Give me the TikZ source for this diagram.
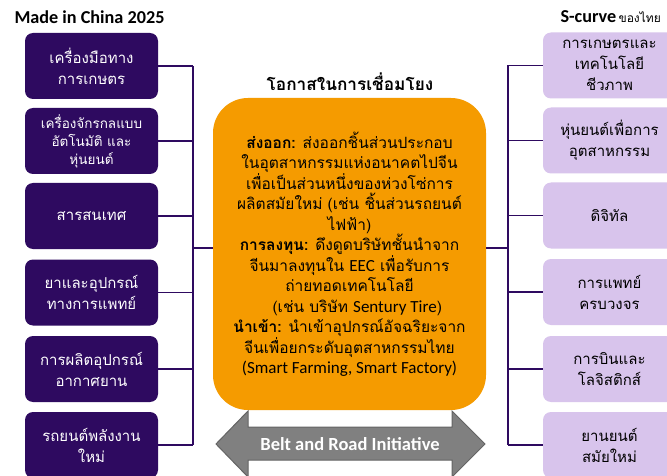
\documentclass[tikz,border=0pt]{standalone}
\usepackage{fontspec}
\setmainfont{Carlito}
\newfontfamily\thaifont[Script=Thai]{Loma}
\newcommand{\lat}[1]{{\rmfamily\fontsize{17}{20.5}\selectfont #1}}
\definecolor{mcpurple}{RGB}{46,10,96}
\definecolor{sclilac}{RGB}{216,196,236}
\definecolor{opporange}{RGB}{245,155,0}
\definecolor{brigray}{RGB}{128,128,128}
\definecolor{brigrayline}{RGB}{100,100,100}
\tikzset{
  mcbox/.style={rectangle, rounded corners=8pt, fill=mcpurple, text=white,
    minimum width=133pt, minimum height=66pt, align=center, inner sep=2pt,
    font=\thaifont\fontsize{15}{21}\selectfont},
  scbox/.style={rectangle, rounded corners=8pt, fill=sclilac, text=black,
    minimum width=133pt, minimum height=66pt, align=center, inner sep=2pt,
    font=\thaifont\fontsize{15}{21}\selectfont},
  link/.style={draw=mcpurple, line width=1.6pt},
}
\begin{document}
\begin{tikzpicture}[x=1pt,y=-1pt]
  \clip (0,0) rectangle (667,476);
  \fill[white] (0,0) rectangle (667,476);
  % headings
  \node[anchor=west, font=\bfseries\fontsize{18.2}{21}\selectfont] (mictitle) at (11,17) {Made in China 2025};
  \node[anchor=east, inner sep=0pt] (sctitle) at (661,17)
    {{\bfseries\fontsize{18.2}{21}\selectfont S-curve} {\thaifont\fontsize{12}{14}\selectfont ของไทย}};
  \node[font=\thaifont\bfseries\fontsize{17.2}{20}\selectfont] (opptitle) at (350,82) {โอกาสในการเชื่อมโยง};
  % Made in China 2025
  \node[mcbox] (m1) at (91.5,66) {เครื่องมือทาง\\การเกษตร};
  \node[mcbox, font=\thaifont\fontsize{13.5}{18}\selectfont] (m2) at (91.5,141) {เครื่องจักรกลแบบ\\อัตโนมัติ และ\\หุ่นยนต์};
  \node[mcbox] (m3) at (91.5,216) {สารสนเทศ};
  \node[mcbox] (m4) at (91.5,292.5) {ยาและอุปกรณ์\\ทางการแพทย์};
  \node[mcbox] (m5) at (91.5,369) {การผลิตอุปกรณ์\\อากาศยาน};
  \node[mcbox] (m6) at (91.5,445) {รถยนต์พลังงาน\\ใหม่};
  % S-curve
  \node[scbox] (s1) at (609.5,65.5) {การเกษตรและ\\เทคโนโลยี\\ชีวภาพ};
  \node[scbox] (s2) at (609.5,140.5) {หุ่นยนต์เพื่อการ\\อุตสาหกรรม};
  \node[scbox] (s3) at (609.5,215.5) {ดิจิทัล};
  \node[scbox] (s4) at (609.5,292) {การแพทย์\\ครบวงจร};
  \node[scbox] (s5) at (609.5,369) {การบินและ\\โลจิสติกส์};
  \node[scbox] (s6) at (609.5,445) {ยานยนต์\\สมัยใหม่};
  % opportunities
  \node[rectangle, rounded corners=35pt, fill=opporange, minimum width=273pt,
    minimum height=312pt, align=center, inner sep=0pt,
    font=\thaifont\fontsize{15.5}{20.5}\selectfont]
    (opp) at (349.5,254)
    {{\bfseries ส่งออก:} ส่งออกชิ้นส่วนประกอบ\\
     ในอุตสาหกรรมแห่งอนาคตไปจีน\\
     เพื่อเป็นส่วนหนึ่งของห่วงโซ่การ\\
     ผลิตสมัยใหม่ (เช่น ชิ้นส่วนรถยนต์\\
     ไฟฟ้า)\\
     {\bfseries การลงทุน:} ดึงดูดบริษัทชั้นนำจาก\\
     จีนมาลงทุนใน \lat{EEC} เพื่อรับการ\\
     ถ่ายทอดเทคโนโลยี\\
     \quad(เช่น บริษัท \lat{Sentury Tire})\\
     {\bfseries นำเข้า:} นำเข้าอุปกรณ์อัจฉริยะจาก\\
     จีนเพื่อยกระดับอุตสาหกรรมไทย\\
     \lat{(Smart Farming, Smart Factory)}};
  % connectors
  \coordinate (lbus) at (193,248);
  \coordinate (rbus) at (508,248);
  \begin{scope}[link]
    \foreach \i in {1,...,6} {
      \draw (m\i.east) -- (m\i.east -| lbus);
      \draw (s\i.west) -- (s\i.west -| rbus);
    }
    \draw (m1.east -| lbus) -- (m6.east -| lbus);
    \draw (s1.west -| rbus) -- (s6.west -| rbus);
    \draw (lbus) -- (lbus -| opp.west);
    \draw (rbus) -- (rbus -| opp.east);
  \end{scope}
  % Belt and Road
  \filldraw[fill=brigray, draw=brigrayline, line width=1pt, line join=miter]
    (216,444) -- (248,411) -- (248,427) -- (452,427) -- (452,411) -- (485,444)
    -- (452,477) -- (452,460) -- (248,460) -- (248,477) -- cycle;
  \node[text=white, font=\bfseries\fontsize{18.5}{20}\selectfont] (bri) at (350,444) {Belt and Road Initiative};
\end{tikzpicture}
\end{document}
